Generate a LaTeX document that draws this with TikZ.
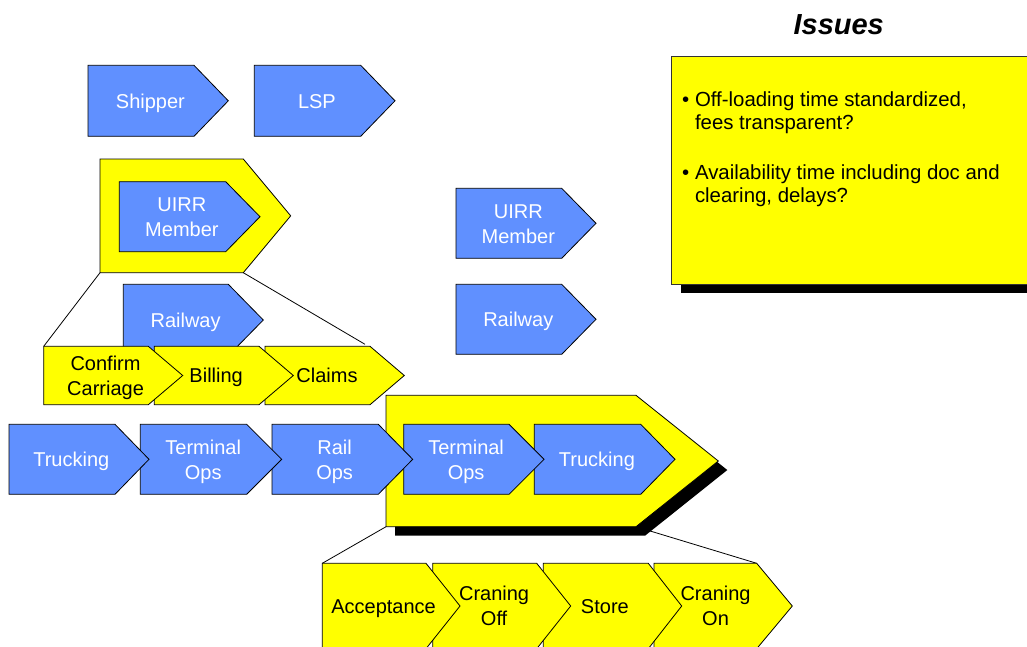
\documentclass[tikz,border=0pt]{standalone}
\usepackage{fontspec}
\setmainfont{Liberation Sans}
\usetikzlibrary{shadows}
\definecolor{chevblue}{RGB}{96,144,255}
\definecolor{chevyellow}{RGB}{255,255,0}
\pgfdeclarelayer{background}
\pgfsetlayers{background,main}

% Pentagon arrow: name, style, left x, top y, width to tip, height, tip depth
\newcommand\chevpath[7]{%
  \pgfmathsetmacro\chxn{#3+#5-#7}%
  \pgfmathsetmacro\chxt{#3+#5}%
  \pgfmathsetmacro\chyb{#4+#6}%
  \pgfmathsetmacro\chym{#4+#6/2}%
  \coordinate (#1-tl) at (#3,#4);
  \coordinate (#1-nt) at (\chxn,#4);
  \coordinate (#1-tip) at (\chxt,\chym);
  \coordinate (#1-nb) at (\chxn,\chyb);
  \coordinate (#1-bl) at (#3,\chyb);
  \path[#2] (#1-tl) -- (#1-nt) -- (#1-tip) -- (#1-nb) -- (#1-bl) -- cycle;
}
% Labelled arrow: name, colour, x, y, w, h, d, text, number of lines
% (the base anchor of a multi-line label is its last line)
\newcommand\chev[9]{%
  \chevpath{#1-box}{#2 shape}{#3}{#4}{#5}{#6}{#7}
  \pgfmathsetmacro\chxc{#3+0.445*#5}%
  \pgfmathsetmacro\chyc{#4+#6/2+7.2+12.5*(#9-1)}%
  \node[#2 text] (#1) at (\chxc,\chyc) {#8};
}

\begin{document}
\begin{tikzpicture}[x=1pt,y=-1pt,
  blue shape/.style={fill=chevblue,draw=black,line width=0.8pt},
  yellow shape/.style={fill=chevyellow,draw=black,line width=0.8pt},
  shadowed/.style={drop shadow={shadow xshift=9pt,shadow yshift=-9pt,opacity=1,fill=black}},
  label base/.style={font=\fontsize{20}{25}\selectfont,align=center,inner sep=0pt,anchor=base},
  blue text/.style={label base,text=white},
  yellow text/.style={label base,text=black},
  link/.style={draw=black,line width=0.8pt},
  note text/.style={font=\fontsize{20.4}{23.5}\selectfont,align=left,inner sep=0pt,anchor=base west},
  title text/.style={font=\fontsize{29}{34}\selectfont\bfseries\itshape,inner sep=0pt,anchor=base}
]
\useasboundingbox (0,0) rectangle (1027,646);
\clip (0,0) rectangle (1027,646);

% top row
\chev{shipper}{blue}{88}{65.3}{140.3}{71}{34.3}{Shipper}{1}
\chev{lsp}{blue}{254.3}{65.3}{140.7}{71}{34.3}{LSP}{1}

% UIRR member with its frame
\chevpath{uirrframe}{yellow shape}{100}{159}{190.7}{113.7}{47.4}
\chev{uirr}{blue}{119.3}{181.7}{140.7}{70}{34.3}{UIRR\\Member}{2}

% right column
\chev{uirrb}{blue}{456}{188.3}{140}{70}{34.3}{UIRR\\Member}{2}
\chev{railb}{blue}{456}{284.3}{140}{70}{34.3}{Railway}{1}

% railway and its sub-steps
\chev{raila}{blue}{123.3}{284.3}{140}{71.4}{35}{Railway}{1}
\chev{claims}{yellow}{265}{346.3}{139.3}{58.4}{34.3}{Claims}{1}
\chev{billing}{yellow}{154.3}{346.3}{139}{58.4}{34.3}{Billing}{1}
\chev{confirm}{yellow}{43.7}{346.3}{139}{58.4}{34.4}{Confirm\\Carriage}{2}
\coordinate (claimsend) at (365,344.3);

% main chain
\chevpath{opsframe}{yellow shape,shadowed}{386}{395.3}{332.3}{131.4}{82.3}
\chev{truckb}{blue}{534.3}{424.3}{140.7}{70}{34.3}{Trucking}{1}
\chev{termb}{blue}{403.7}{424.3}{140.3}{70}{35}{Terminal\\Ops}{2}
\chev{railops}{blue}{272}{424.3}{140.7}{70}{34.4}{Rail\\Ops}{2}
\chev{terma}{blue}{140.3}{424.3}{141.4}{70}{35}{Terminal\\Ops}{2}
\chev{trucka}{blue}{9}{424.3}{140}{70}{34}{Trucking}{1}

% terminal sub-steps
\chev{cranon}{yellow}{654}{563.3}{138.3}{85.4}{35.6}{Craning\\On}{2}
\chev{store}{yellow}{543.3}{563.3}{138.4}{85.4}{33.4}{Store}{1}
\chev{cranoff}{yellow}{432.7}{563.3}{138}{85.4}{34}{Craning\\Off}{2}
\chev{accept}{yellow}{322.3}{563.3}{137.7}{85.4}{34}{Acceptance}{1}

% zoom-out connectors
\begin{pgfonlayer}{background}
\draw[link] (uirrframe-bl) -- (confirm-box-tl);
\draw[link] (uirrframe-nb) -- (claimsend);
\draw[link] (opsframe-bl) -- (accept-box-tl);
\draw[link] (opsframe-nb) -- (cranon-box-nt);
\end{pgfonlayer}

% issues panel
\node[title text] (title) at (838.7,34.3) {Issues};
\path[fill=chevyellow,draw=black!80,line width=0.8pt,shadowed] (671.7,56.7) rectangle (1040,284);
\node[note text] (issue1) at (682,129.5) {• Off-loading time standardized,\\\hphantom{• }fees transparent?};
\node[note text] (issue2) at (682,202.8) {• Availability time including doc and\\\hphantom{• }clearing, delays?};
\end{tikzpicture}
\end{document}
